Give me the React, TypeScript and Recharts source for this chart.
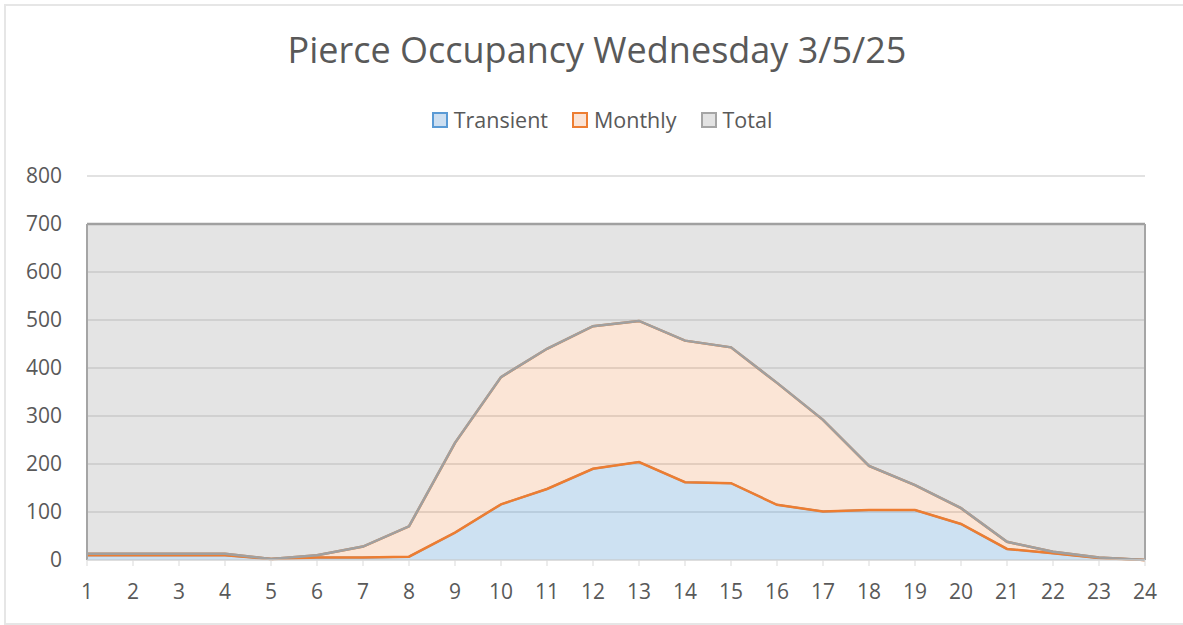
import { AreaChart, Area, XAxis, YAxis, CartesianGrid, ReferenceLine } from "recharts"

const hours = [1, 2, 3, 4, 5, 6, 7, 8, 9, 10, 11, 12, 13, 14, 15, 16, 17, 18, 19, 20, 21, 22, 23, 24]
const transient = [10, 10, 10, 10, 2, 5, 5, 7, 57, 116, 148, 190, 204, 162, 160, 115, 101, 104, 104, 75, 23, 14, 4, 0]
// transient + monthly (top of the orange band)
const occupied = [13, 13, 13, 13, 2, 10, 28, 70, 244, 381, 440, 487, 498, 457, 443, 369, 292, 196, 156, 108, 38, 17, 5, 0]
const total = [700, 700, 700, 700, 700, 700, 700, 700, 700, 700, 700, 700, 700, 700, 700, 700, 700, 700, 700, 700, 700, 700, 700, 700]
const yTicks = [0, 100, 200, 300, 400, 500, 600, 700, 800]

const FONT = "'Open Sans', sans-serif"
const TEXT = "#595959"

const legendItems = [
  { name: "Transient", fill: "#cddff1", stroke: "#5b9bd5" },
  { name: "Monthly", fill: "#fbe3d4", stroke: "#ed7d31" },
  { name: "Total", fill: "#e3e3e3", stroke: "#a5a5a5" },
]

const rows = hours.map((hour, i) => ({
  hour,
  transient: transient[i],
  monthly: [transient[i], occupied[i]],
  total: [occupied[i], total[i]],
}))

export default function App() {
  return (
    <div style={{ position: "absolute", left: 0, top: 0, width: 1183, height: 625, background: "#fff", overflow: "hidden", fontFamily: FONT }}>
      <div style={{ position: "absolute", left: 4, top: 4, width: 1200, height: 617, border: "2px solid #e6e6e6" }} />
      <div style={{ position: "absolute", left: 0, top: 25, width: 1194, textAlign: "center", fontSize: 36, color: TEXT }}>
        Pierce Occupancy Wednesday 3/5/25
      </div>
      <div style={{ position: "absolute", left: 0, top: 105, width: 1204, display: "flex", justifyContent: "center", gap: 24, fontSize: 21.5, color: TEXT }}>
        {legendItems.map((it) => (
          <div key={it.name} style={{ display: "flex", alignItems: "center" }}>
            <span style={{ display: "inline-block", width: 12, height: 12, background: it.fill, border: `2px solid ${it.stroke}`, marginRight: 6 }} />
            <span>{it.name}</span>
          </div>
        ))}
      </div>
      <div style={{ position: "absolute", left: 0, top: 0 }}>
        <AreaChart width={1183} height={625} data={rows} margin={{ top: 176, right: 38, bottom: 35, left: 0 }}>
          <CartesianGrid vertical={false} stroke="#d9d9d9" strokeWidth={1.5} />
          <XAxis
            dataKey="hour"
            stroke="#d9d9d9"
            tickSize={6}
            tickMargin={18}
            tick={{ fill: TEXT, fontSize: 21, fontFamily: FONT }}
            interval={0}
          />
          <YAxis
            width={87}
            domain={[0, 800]}
            ticks={yTicks}
            axisLine={false}
            tickLine={false}
            tickSize={0}
            tickMargin={25}
            tick={{ fill: TEXT, fontSize: 21, fontFamily: FONT }}
          />
          <Area type="linear" dataKey="transient" name="Transient" fill="#5b9bd5" fillOpacity={0.3} stroke="#5b9bd5" strokeWidth={2} isAnimationActive={false} />
          <Area type="linear" dataKey="monthly" name="Monthly" fill="#ed7d31" fillOpacity={0.2} stroke="#ed7d31" strokeWidth={2.5} isAnimationActive={false} />
          <Area type="linear" dataKey="total" name="Total" fill="#a5a5a5" fillOpacity={0.3} stroke="#a0a0a0" strokeWidth={2.5} isAnimationActive={false} />
          <ReferenceLine segment={[{ x: hours[0], y: 0 }, { x: hours[0], y: total[0] }]} stroke="#a5a5a5" strokeWidth={2} />
          <ReferenceLine segment={[{ x: hours[23], y: 0 }, { x: hours[23], y: total[23] }]} stroke="#a5a5a5" strokeWidth={2} />
        </AreaChart>
      </div>
    </div>
  )
}
